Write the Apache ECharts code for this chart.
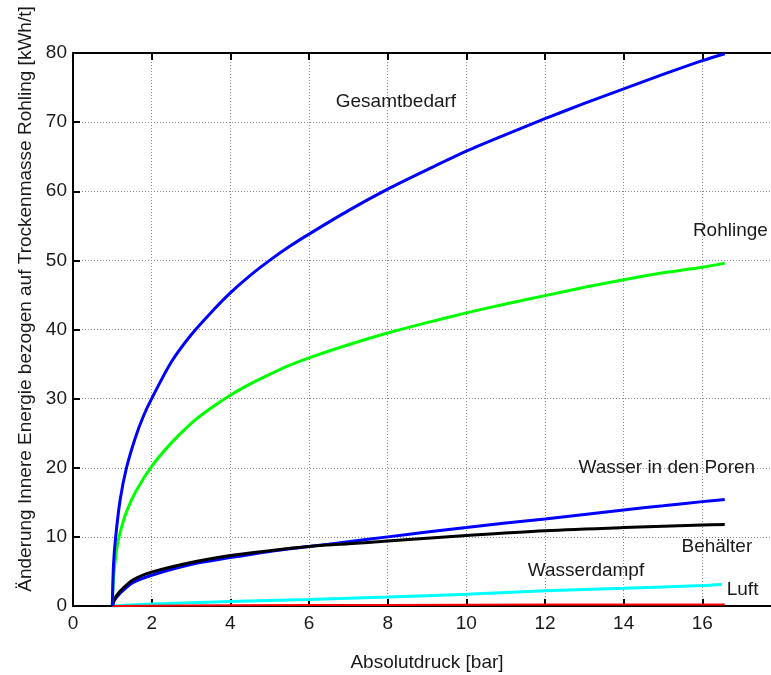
<!DOCTYPE html>
<html>
<head>
<meta charset="utf-8">
<script src="https://cdn.jsdelivr.net/npm/echarts@6/dist/echarts.min.js"></script>
<style>
  html, body { margin: 0; padding: 0; background: #fff; }
  #chart { width: 771px; height: 675px; }
</style>
</head>
<body>
<div id="chart"></div>
<script>
// Absolute pressure [bar] sample points and energy values [kWh/t]
const gesamtX = [1, 1.03, 1.085, 1.2, 1.36, 1.6, 1.8, 2, 2.5, 3, 3.5, 4, 4.5, 5, 5.5, 6, 7, 8, 9, 10, 11, 12, 13, 14, 15, 16, 16.57];
const gesamtY = [0, 6, 10, 15.4, 20, 24.6, 27.6, 30, 35.3, 39.2, 42.4, 45.3, 47.8, 50.0, 52.0, 53.8, 57.2, 60.3, 63.1, 65.8, 68.2, 70.5, 72.7, 74.8, 76.9, 78.9, 79.9];

const rohlingeX = [1, 1.03, 1.1, 1.17, 1.35, 1.6, 2, 2.5, 3, 3.5, 4, 4.5, 5, 5.5, 6, 7, 8, 9, 10, 11, 12, 13, 14, 15, 16, 16.57];
const rohlingeY = [0, 4, 7.8, 10, 13.5, 16.6, 20.2, 23.6, 26.4, 28.6, 30.5, 32.1, 33.5, 34.8, 35.9, 37.8, 39.5, 41.0, 42.4, 43.7, 44.9, 46.1, 47.2, 48.2, 49.0, 49.6];

const porenX = [1, 1.05, 1.19, 1.53, 2, 3, 4, 5, 6, 7, 8, 9, 10, 11, 12, 13, 14, 15, 16, 16.57];
const porenY = [0, 0.8, 1.8, 3.4, 4.45, 6.0, 7.0, 7.9, 8.6, 9.3, 10.0, 10.7, 11.35, 12.0, 12.6, 13.25, 13.9, 14.5, 15.1, 15.4];

const behaelterX = [1, 1.05, 1.19, 1.53, 2, 3, 4, 5, 6, 7, 8, 10, 12, 14, 16, 16.57];
const behaelterY = [0, 1.0, 2.1, 3.8, 4.9, 6.3, 7.3, 8.0, 8.6, 9.0, 9.4, 10.2, 10.9, 11.35, 11.7, 11.8];

const luftX = [1, 2, 4, 6, 8, 10, 12, 14, 16, 16.5];
const luftY = [0, 0.3, 0.65, 0.95, 1.3, 1.7, 2.2, 2.55, 2.95, 3.1];

const dampfX = [1, 4, 8, 12, 16.57];
const dampfY = [0, 0.1, 0.15, 0.2, 0.2];

const xTicks = [0, 2, 4, 6, 8, 10, 12, 14, 16, 18];
const yTicks = [0, 10, 20, 30, 40, 50, 60, 70, 80];

// Curve annotations: text, anchor in data units (left edge, vertical centre)
const annotations = [
  { text: 'Gesamtbedarf', x: 6.68, y: 72.9 },
  { text: 'Rohlinge', x: 15.76, y: 54.3 },
  { text: 'Wasser in den Poren', x: 12.85, y: 19.95 },
  { text: 'Behälter', x: 15.47, y: 8.5 },
  { text: 'Wasserdampf', x: 11.56, y: 5.03 },
  { text: 'Luft', x: 16.62, y: 2.42 }
];

const FONT = '"Liberation Sans", Arial, Helvetica, sans-serif';
const TEXT_COLOR = '#1a1a1a';

function pairs(xs, ys) { return xs.map((x, i) => [x, ys[i]]); }

function lineSeries(name, xs, ys, color, width) {
  return {
    name, type: 'line', data: pairs(xs, ys), showSymbol: false,
    smooth: 0.3,
    lineStyle: { color, width }, itemStyle: { color }, animation: false, z: 3
  };
}

const gridLine = { show: true, lineStyle: { color: '#8a8a8a', type: [1, 2], width: 1 } };
const axisLineBlack = { show: true, onZero: false, lineStyle: { color: '#000', width: 2 } };
const tickInside = { show: true, inside: true, length: 7, lineStyle: { color: '#000', width: 2 } };
const labelStyle = { color: TEXT_COLOR, fontFamily: FONT, fontSize: 19 };

const chart = echarts.init(document.getElementById('chart'), null, { renderer: 'canvas' });

chart.setOption({
  backgroundColor: '#fff',
  animation: false,
  grid: { left: 73, top: 53, width: 708, height: 553, containLabel: false, outerBoundsMode: 'none' },
  xAxis: [
    {
      type: 'value', min: xTicks[0], max: xTicks[xTicks.length - 1], interval: 2,
      position: 'bottom',
      name: 'Absolutdruck [bar]', nameLocation: 'middle', nameGap: 47,
      nameTextStyle: labelStyle,
      axisLine: axisLineBlack, axisTick: tickInside,
      axisLabel: Object.assign({ margin: 8 }, labelStyle),
      splitLine: gridLine
    },
    {
      type: 'value', min: xTicks[0], max: xTicks[xTicks.length - 1], interval: 2,
      position: 'top',
      axisLine: axisLineBlack, axisTick: tickInside,
      axisLabel: { show: false }, splitLine: { show: false }
    }
  ],
  yAxis: [
    {
      type: 'value', min: yTicks[0], max: yTicks[yTicks.length - 1], interval: 10,
      position: 'left',
      axisLine: axisLineBlack, axisTick: tickInside,
      axisLabel: Object.assign({ margin: 6 }, labelStyle),
      splitLine: gridLine
    }
  ],
  series: [
    lineSeries('Luft', luftX, luftY, '#00ffff', 3),
    lineSeries('Wasserdampf', dampfX, dampfY, '#ff0000', 2),
    lineSeries('Wasser in den Poren', porenX, porenY, '#0000ff', 3),
    lineSeries('Behälter', behaelterX, behaelterY, '#000000', 3),
    lineSeries('Rohlinge', rohlingeX, rohlingeY, '#00ff00', 3),
    lineSeries('Gesamtbedarf', gesamtX, gesamtY, '#0000ff', 3)
  ]
});

// Y axis title and curve annotations placed as text elements
const graphics = [{
  type: 'text', x: 26, y: 299, rotation: Math.PI / 2, z: 10,
  style: {
    text: 'Änderung Innere Energie bezogen auf Trockenmasse Rohling [kWh/t]',
    font: '19px ' + FONT, fill: TEXT_COLOR, align: 'center', verticalAlign: 'middle'
  }
}];
annotations.forEach(a => {
  const p = chart.convertToPixel({ xAxisIndex: 0, yAxisIndex: 0 }, [a.x, a.y]);
  graphics.push({
    type: 'text', x: p[0], y: p[1], z: 10,
    style: { text: a.text, font: '19px ' + FONT, fill: TEXT_COLOR, align: 'left', verticalAlign: 'middle' }
  });
});
chart.setOption({ graphic: graphics });
</script>
</body>
</html>
